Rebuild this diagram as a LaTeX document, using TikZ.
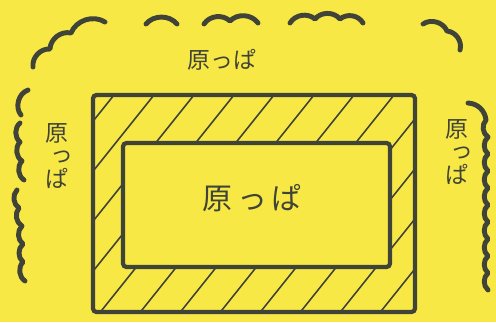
\documentclass[tikz,border=0pt]{standalone}
\usepackage{fontspec}
\newfontfamily\jp{Noto Sans CJK JP}
\definecolor{paper}{RGB}{248,232,70}
\definecolor{ink}{RGB}{64,68,56}

\begin{document}
\begin{tikzpicture}[x=0.02cm,y=-0.02cm]
\tikzset{wall/.style={ink, line width=2.4pt, rounded corners=2pt},
  hatch/.style={ink, line width=0.9pt},
  grass/.style={ink, line width=2.8pt, line cap=round, line join=round},
  label/.style={ink, inner sep=0pt, align=center, font=\jp\fontsize{13}{14}\selectfont}}
\fill [paper] (0,0) rectangle (496,322);
\useasboundingbox (0,0) rectangle (496,322);
% hatching between the two walls
\begin{scope}[even odd rule]
\clip (93,95) rectangle (415,312) (123,143) rectangle (390,267);
\foreach \c in {190,230,...,680}
  \draw [hatch] (\c-249.6,312) -- (\c-76,95);
\end{scope}
\draw [wall] (93,95) rectangle (415,312);
\draw [wall] (123,143) rectangle (390,267);
% grass along the top
\draw [grass] (33,67) to[bend left=50] (50,49) to[bend left=50] (71,33) to[bend left=50] (105,22);
\draw [grass] (146,24) to[bend left=50] (177,24);
\draw [grass] (204,24) to[bend left=50] (230,21) to[bend left=50] (258,23);
\draw [grass] (290,23) to[bend left=50] (315,19) to[bend left=50] (340,19) to[bend left=50] (363,23);
\draw [grass] (423,24) to[bend left=50] (447,31) to[bend left=50] (460,50);
% grass on the left
\draw [grass] (28,90) to[bend right=55] (21,115);
\draw [grass] (20,123) to[bend right=50] (20,142) to[bend right=50] (22,161) to[bend right=50] (24,180);
\draw [grass] (17,190) to[bend right=50] (19,208) to[bend right=50] (22,226)
  to[bend right=50] (23,244) to[bend right=50] (23,262) to[bend right=50] (25,281);
% grass on the right
\draw [grass] (468,103) to[bend left=40] (486,120)
  \foreach \y in {137,154,...,290} { to[bend right=50] (488,\y) };
% labels
\node [label] (top) at (222,60) {原っぱ};
\node [label] (west) at (57,156) {原\\[-2pt]\hspace*{6pt}っ\\ぱ};
\node [label] (east) at (457,152) {原\\[-2pt]\hspace*{6pt}っ\\ぱ};
\node [label, font=\jp\fontsize{17}{18}\selectfont] (field) at (252,198) {原\,っ\,ぱ};
\end{tikzpicture}
\end{document}
